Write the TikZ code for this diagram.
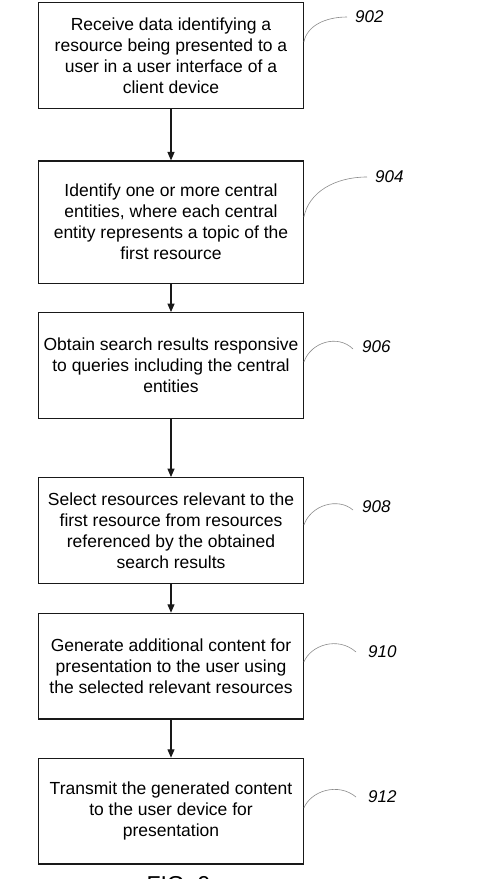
\documentclass[tikz,border=0pt]{standalone}
\usepackage{fontspec}
\setmainfont{Liberation Sans}
\usetikzlibrary{arrows.meta,calc}
\begin{document}
\begin{tikzpicture}[x=1pt,y=-1pt,
  stepbox/.style={draw=black!90,line width=1.2pt,minimum width=264.6pt,inner sep=0pt,align=center,
    font=\fontsize{17.5}{21}\selectfont},
  flow/.style={draw=black!90,line width=1.2pt,-{Triangle[length=8.5pt,width=7pt]}},
  reflabel/.style={inner sep=0pt,anchor=west,font=\fontsize{17}{20}\selectfont\itshape},
  leader/.style={draw=black!45,line width=0.6pt}]
\useasboundingbox (0,0) rectangle (484,879);
\clip (0,0) rectangle (484,879);
\fill[white] (0,0) rectangle (484,879);

\node[stepbox,minimum height=105.6pt] (b902) at (171,55.5) {Receive data identifying a\\resource being presented to a\\user in a user interface of a\\client device};
\node[stepbox,minimum height=122.3pt] (b904) at (171,222.2) {Identify one or more central\\entities, where each central\\entity represents a topic of the\\first resource};
\node[stepbox,minimum height=106pt] (b906) at (171,365.7) {Obtain search results responsive\\to queries including the central\\entities};
\node[stepbox,minimum height=106pt] (b908) at (171,530.7) {Select resources relevant to the\\first resource from resources\\referenced by the obtained\\search results};
\node[stepbox,minimum height=105.7pt] (b910) at (171,666.2) {Generate additional content for\\presentation to the user using\\the selected relevant resources};
\node[stepbox,minimum height=105.7pt] (b912) at (171,811.2) {Transmit the generated content\\to the user device for\\presentation};

\draw[flow] (b902.south) -- (b904.north);
\draw[flow] (b904.south) -- (b906.north);
\draw[flow] (b906.south) -- (b908.north);
\draw[flow] (b908.south) -- (b910.north);
\draw[flow] (b910.south) -- (b912.north);

\node[reflabel] (l902) at (355,17) {902};
\node[reflabel] (l904) at (375,177) {904};
\node[reflabel] (l906) at (362,347) {906};
\node[reflabel] (l908) at (362,507) {908};
\node[reflabel] (l910) at (368,652) {910};
\node[reflabel] (l912) at (368,797) {912};

\draw[leader] ($(b902.east)+(0,-13.5)$) .. controls +(3,-16) and +(-22,0) .. ($(l902.west)+(-8,0)$);
\draw[leader] ($(b904.east)+(0,-5.2)$) .. controls +(5,-25) and +(-32,0) .. ($(l904.west)+(-8,0)$);
\draw[leader] ($(b906.east)+(0,-3.7)$) .. controls +(7,-20) and +(-15,-15) .. ($(l906.west)+(-9,2)$);
\draw[leader] ($(b908.east)+(0,-5.7)$) .. controls +(7,-20) and +(-15,-13) .. ($(l908.west)+(-9,3)$);
\draw[leader] ($(b910.east)+(0,-4.2)$) .. controls +(7,-17) and +(-18,-16) .. ($(l910.west)+(-12,0)$);
\draw[leader] ($(b912.east)+(0,-3.2)$) .. controls +(7,-17) and +(-18,-15) .. ($(l912.west)+(-12,0)$);

\node[inner sep=0pt,anchor=north,font=\fontsize{23}{26}\selectfont] (fig) at (178.5,876.5) {FIG. 9};
\end{tikzpicture}
\end{document}
